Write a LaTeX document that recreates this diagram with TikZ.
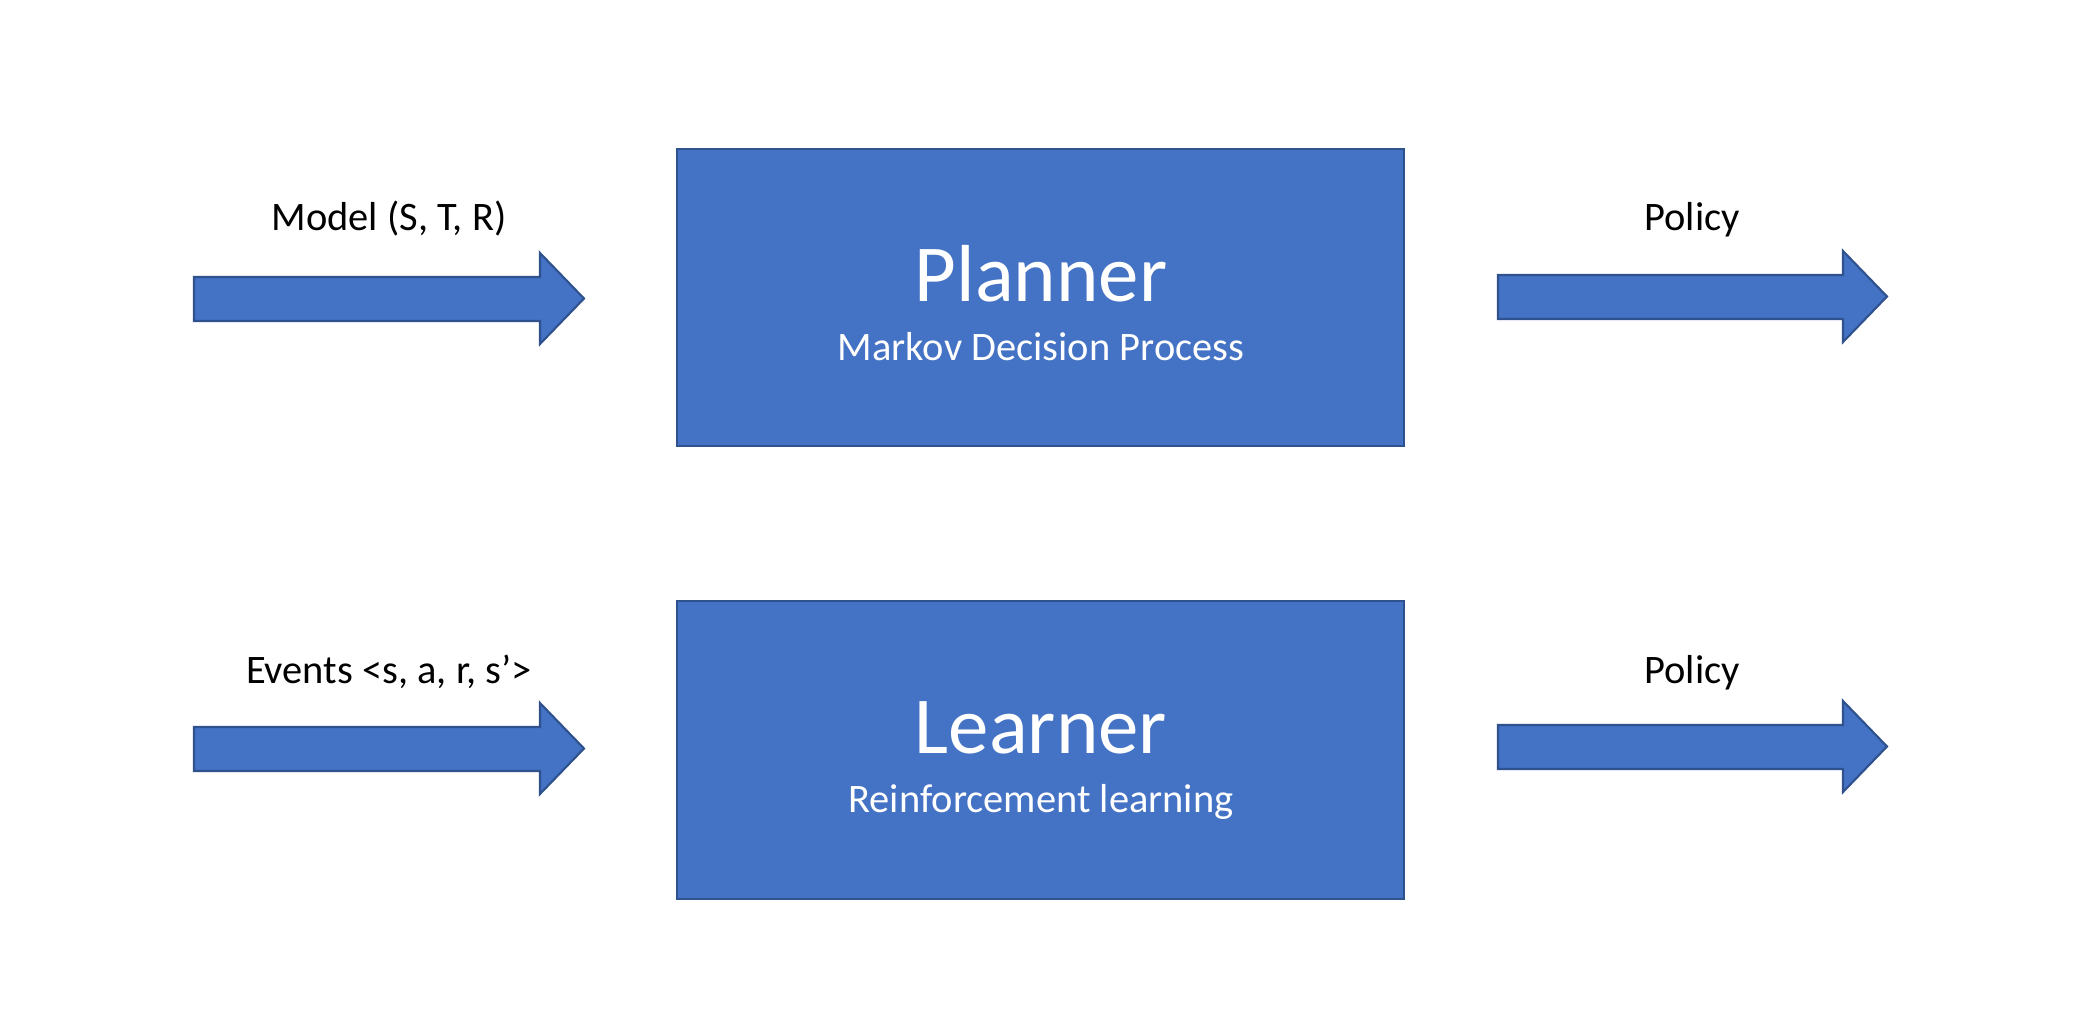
\documentclass[tikz,border=0pt]{standalone}
\usepackage{fontspec}
\setmainfont{Carlito}
\definecolor{boxblue}{HTML}{4472C4}
\definecolor{edgeblue}{HTML}{2F528F}
\begin{document}
\begin{tikzpicture}[x=0.01cm,y=-0.01cm,
  blockbox/.style={draw=edgeblue, fill=boxblue, line width=0.6pt, minimum width=7.27cm, minimum height=2.97cm, inner sep=0},
  blockarrow/.style={draw=edgeblue, fill=boxblue, line width=0.6pt, line join=miter},
  lbl/.style={font=\fontsize{11.5}{13}\selectfont, text=black, inner sep=0, anchor=base},
  title/.style={font=\fontsize{23}{27}\selectfont, text=white, inner sep=0, anchor=base},
  subtitle/.style={font=\fontsize{11.5}{13}\selectfont, text=white, inner sep=0, anchor=base}]
\useasboundingbox (0,0) rectangle (2100,1024);
% boxes
\node[blockbox] (planner) at (1040.5,297.5) {};
\node[blockbox] (learner) at (1040.5,750) {};
\node[title] (plannertitle) at (1041,301) {Planner};
\node[subtitle] (plannersub) at (1041,360) {Markov Decision Process};
\node[title] (learnertitle) at (1041,753) {Learner};
\node[subtitle] (learnersub) at (1041,812) {Reinforcement learning};
% arrows
\foreach \dy in {0,450} {
  \begin{scope}[yshift=-\dy*0.01cm]
    \draw[blockarrow] (194,277) -- (540,277) -- (540,253) -- (584,298.5) -- (540,344) -- (540,321) -- (194,321) -- cycle;
    \draw[blockarrow] (1498,275) -- (1843,275) -- (1843,251) -- (1887,296.5) -- (1843,342) -- (1843,319) -- (1498,319) -- cycle;
  \end{scope}
}
% labels
\node[lbl] (modellbl) at (389,230) {Model (S, T, R)};
\node[lbl] (policytop) at (1692,230) {Policy};
\node[lbl] (eventslbl) at (389,683) {Events <s, a, r, s’>};
\node[lbl] (policybot) at (1692,683) {Policy};
\end{tikzpicture}
\end{document}
